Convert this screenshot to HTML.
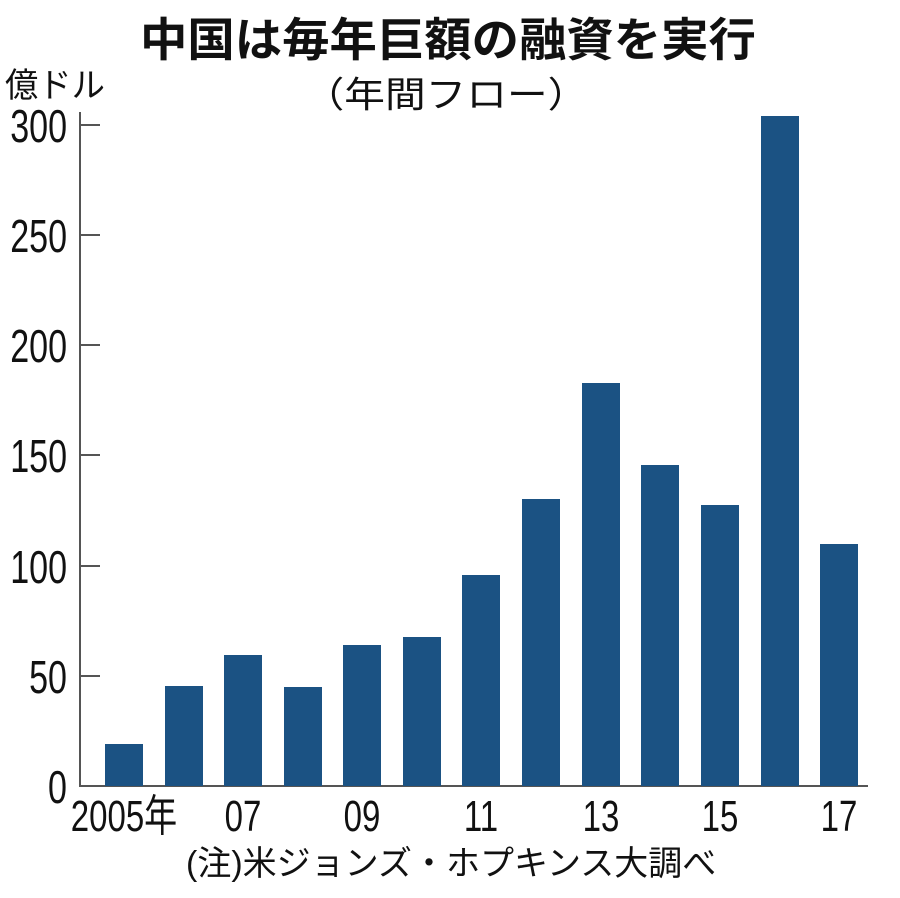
<!DOCTYPE html>
<html><head><meta charset="utf-8"><style>
html,body{margin:0;padding:0;background:#fff;width:900px;height:898px;overflow:hidden}
svg text{font-family:"Liberation Sans","Noto Sans CJK JP",sans-serif;fill:#111}
</style></head><body>
<svg width="900" height="898" viewBox="0 0 900 898" xmlns="http://www.w3.org/2000/svg">
<text x="448" y="56" text-anchor="middle" font-size="46" font-weight="bold" transform="translate(448 0) scale(1.03 1) translate(-448 0)">中国は毎年巨額の融資を実行</text>
<text x="446" y="107" text-anchor="middle" font-size="36" transform="translate(446 0) scale(1.13 1) translate(-446 0)">（年間フロー）</text>
<text x="5" y="97" font-size="34" transform="translate(5 0) scale(0.98 1) translate(-5 0)">億ドル</text>
<g font-size="46" text-anchor="end" transform="translate(67 0) scale(0.74 1) translate(-67 0)">
<text x="67" y="142">300</text><text x="67" y="252">250</text><text x="67" y="362">200</text>
<text x="67" y="472">150</text><text x="67" y="583">100</text><text x="67" y="693">50</text><text x="67" y="803">0</text>
</g>
<g stroke="#555" stroke-width="2">
<line x1="80" y1="112" x2="80" y2="786"/><line x1="79" y1="786" x2="868" y2="786"/>
<line x1="80" y1="125" x2="100" y2="125"/><line x1="80" y1="235" x2="100" y2="235"/>
<line x1="80" y1="345" x2="100" y2="345"/><line x1="80" y1="455" x2="100" y2="455"/>
<line x1="80" y1="566" x2="100" y2="566"/><line x1="80" y1="676" x2="100" y2="676"/>
</g>
<g fill="#1b5283">
<rect x="105" y="744" width="38" height="42"/>
<rect x="165" y="686" width="38" height="100"/>
<rect x="224" y="655" width="38" height="131"/>
<rect x="284" y="687" width="38" height="99"/>
<rect x="343" y="645" width="38" height="141"/>
<rect x="403" y="637" width="38" height="149"/>
<rect x="462" y="575" width="38" height="211"/>
<rect x="522" y="499" width="38" height="287"/>
<rect x="582" y="383" width="38" height="403"/>
<rect x="641" y="465" width="38" height="321"/>
<rect x="701" y="505" width="38" height="281"/>
<rect x="761" y="116" width="38" height="670"/>
<rect x="820" y="544" width="38" height="242"/>
</g>
<g font-size="44" text-anchor="middle">
<text x="124" y="831" transform="translate(124 0) scale(0.75 1) translate(-124 0)">2005年</text>
<text x="243" y="831" transform="translate(243 0) scale(0.75 1) translate(-243 0)">07</text>
<text x="362" y="831" transform="translate(362 0) scale(0.75 1) translate(-362 0)">09</text>
<text x="481" y="831" transform="translate(481 0) scale(0.75 1) translate(-481 0)">11</text>
<text x="601" y="831" transform="translate(601 0) scale(0.75 1) translate(-601 0)">13</text>
<text x="720" y="831" transform="translate(720 0) scale(0.75 1) translate(-720 0)">15</text>
<text x="839" y="831" transform="translate(839 0) scale(0.75 1) translate(-839 0)">17</text>
</g>
<text x="186" y="875" font-size="34" transform="translate(186 0) scale(1.0 1) translate(-186 0)">(注)米ジョンズ・ホプキンス大調べ</text>
</svg>
</body></html>
